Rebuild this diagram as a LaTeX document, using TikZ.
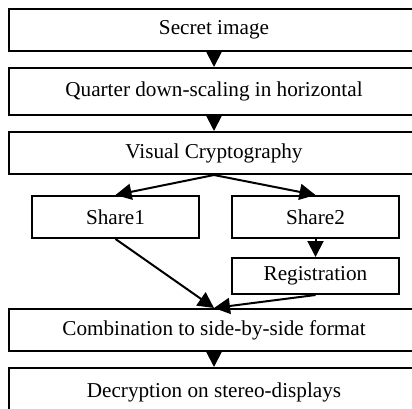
\documentclass[tikz,border=0pt]{standalone}
\usepackage{fontspec}
\setmainfont{Liberation Serif}
\usetikzlibrary{arrows.meta}
\tikzset{stage/.style={draw, line width=1pt, minimum height=21pt, inner sep=0pt, font=\fontsize{10.6}{12.7}\selectfont},
         wide/.style={stage, minimum width=205pt},
         half/.style={stage, minimum width=83.5pt},
         flow/.style={line width=1pt, -{Triangle[width=8pt,length=8pt]}}}

\begin{document}
\begin{tikzpicture}[x=0.5pt, y=-0.5pt]
    \clip (0,0) rectangle (412,408);
    \node[wide] (secret) at (214,30) {Secret image};
    \node[wide, minimum height=23.5pt] (quarter) at (214,91.5) {Quarter down-scaling in horizontal};
    \node[wide] (visual) at (214,153) {Visual Cryptography};
    \node[half] (share1) at (115.5,217) {Share1};
    \node[half] (share2) at (315.5,217) {Share2};
    \node[half, minimum height=18pt] (reg) at (315.5,276) {Registration};
    \node[wide] (comb) at (214,330) {Combination to side-by-side format};
    \node[wide, minimum height=24pt] (decr) at (214,392) {Decryption on stereo-displays};
    \draw[flow] (secret) -- (quarter);
    \draw[flow] (quarter) -- (visual);
    \draw[flow] (visual.south) -- (share1.north);
    \draw[flow] (visual.south) -- (share2.north);
    \draw[flow] (share2) -- (reg);
    \draw[flow] (share1.south) -- (comb.north);
    \draw[flow] (reg.south) -- (comb.north);
    \draw[flow] (comb) -- (decr);
\end{tikzpicture}
\end{document}
